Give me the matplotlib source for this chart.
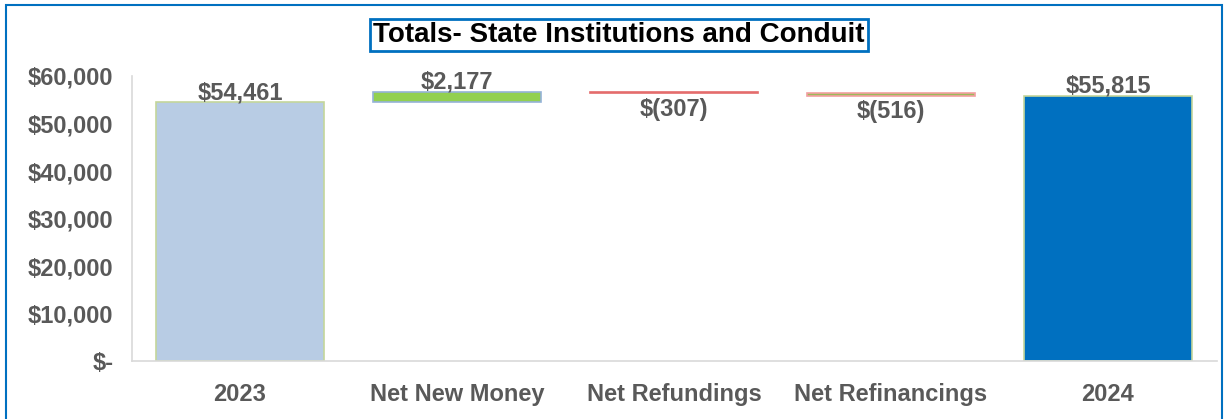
import numpy as np
import matplotlib.pyplot as plt
import matplotlib.patches as patches
from matplotlib.ticker import FuncFormatter

plt.rcParams['font.family'] = ['Liberation Sans', 'DejaVu Sans']

categories = ['2023', 'Net New Money', 'Net Refundings', 'Net Refinancings', '2024']
changes = [54461, 2177, -307, -516, 55815]
is_total = [True, False, False, False, True]
labels = ['$54,461', '$2,177', '$(307)', '$(516)', '$55,815']
faces = ['#B8CCE4', '#92D050', '#FF3B3B', '#9BBB59', '#0070C0']
edges = ['#C3D69B', '#95B3D7', '#E46C6C', '#F2A0A0', '#C3D69B']

gray = '#595959'

# waterfall bottoms/heights
bottoms = []
heights = []
running = 0
for c, t in zip(changes, is_total):
    if t:
        bottoms.append(0)
        heights.append(c)
        running = c
    else:
        new = running + c
        bottoms.append(min(running, new))
        heights.append(abs(c))
        running = new

fig = plt.figure(figsize=(12.3, 4.19), dpi=100)
ax = fig.add_axes([131.5/1230, 1-361/419, 1085/1230, 285/419])

x = np.arange(len(categories))
for i in range(len(categories)):
    h = max(heights[i], 200)
    ax.bar(x[i], h, bottom=bottoms[i], width=0.77, color=faces[i],
           edgecolor=edges[i], linewidth=1.2)
    top = bottoms[i] + heights[i]
    if changes[i] >= 0:
        ax.text(x[i], top - 400, labels[i], ha='center', va='bottom',
                fontsize=17, fontweight='bold', color=gray)
    else:
        ax.text(x[i], bottoms[i] - 900, labels[i], ha='center', va='top',
                fontsize=17, fontweight='bold', color=gray)

ax.set_xlim(-0.5, 4.5)
ax.set_ylim(0, 60000)
ax.set_yticks(np.arange(0, 60001, 10000))
ax.yaxis.set_major_formatter(FuncFormatter(lambda v, p: '$-' if v == 0 else '${:,.0f}'.format(v)))
ax.set_xticks(x)
ax.set_xticklabels(categories)
for lab in ax.get_xticklabels() + ax.get_yticklabels():
    lab.set_fontsize(17)
    lab.set_fontweight('bold')
    lab.set_color(gray)
ax.tick_params(axis='y', length=0, pad=13)
ax.tick_params(axis='x', length=0, pad=16)
for s in ['top', 'right']:
    ax.spines[s].set_visible(False)
for s in ['left', 'bottom']:
    ax.spines[s].set_color('#D9D9D9')
    ax.spines[s].set_linewidth(1.2)

fig.text(619/1230, 1-35/419, 'Totals- State Institutions and Conduit', ha='center', va='center',
         fontsize=20, fontweight='bold', color='black',
         bbox=dict(boxstyle='square,pad=0.12', facecolor='white', edgecolor='#0070C0', linewidth=2))

fig.patches.append(patches.Rectangle((6/1230, -0.01), 1216/1230, 1 - 5/419 + 0.01,
                                     transform=fig.transFigure, fill=False,
                                     edgecolor='#0070C0', linewidth=1.5))

fig.savefig('out.png', dpi=100)
